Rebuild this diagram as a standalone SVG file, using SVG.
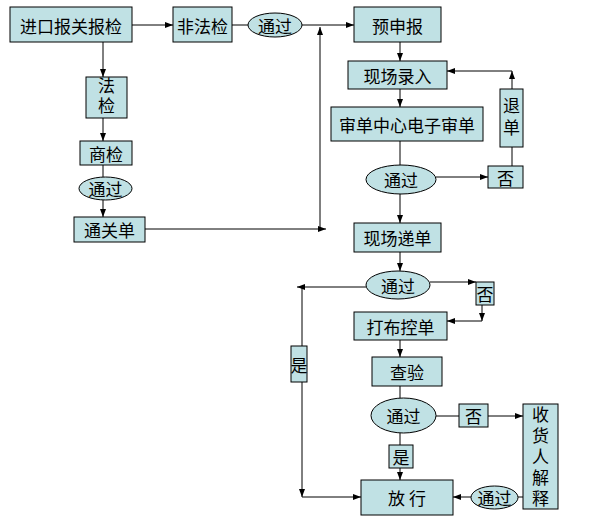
<svg xmlns="http://www.w3.org/2000/svg" width="593" height="518" viewBox="0 0 593 518">
<defs>
<marker id="ah" viewBox="0 0 8 6" refX="8" refY="3" markerWidth="8" markerHeight="6" markerUnits="userSpaceOnUse" orient="auto">
<path d="M0,0 L8,3 L0,6 z" fill="#000"/>
</marker>
<style>
.b{fill:#C0E1E4;stroke:#000;stroke-width:1}
.t{font-family:"Noto Sans CJK SC","Noto Sans",sans-serif;font-size:17px;fill:#000;text-anchor:middle;dominant-baseline:central}
.v{writing-mode:vertical-rl;text-orientation:upright}
.c{fill:none;stroke:#000;stroke-width:1}
.a{fill:none;stroke:#000;stroke-width:1;marker-end:url(#ah)}
</style>
</defs>
<rect width="593" height="518" fill="#fff"/>
<g id="connectors">
<line class="a" x1="132" y1="25" x2="173" y2="25"/>
<line class="c" x1="232" y1="25" x2="248" y2="25"/>
<line class="a" x1="302" y1="25" x2="354" y2="25"/>
<line class="a" x1="320" y1="229" x2="320" y2="27"/>
<line class="a" x1="145" y1="229" x2="326" y2="229"/>
<line class="a" x1="103" y1="42" x2="103" y2="77"/>
<line class="a" x1="103" y1="118" x2="103" y2="141"/>
<line class="c" x1="103" y1="165" x2="103" y2="177"/>
<line class="a" x1="103" y1="200" x2="103" y2="217"/>
<line class="a" x1="400" y1="42" x2="400" y2="61"/>
<line class="a" x1="400" y1="89" x2="400" y2="107"/>
<line class="a" x1="512" y1="89" x2="512" y2="71"/>
<line class="a" x1="512" y1="71" x2="447" y2="71"/>
<line class="c" x1="400" y1="141" x2="400" y2="165"/>
<line class="a" x1="436" y1="177" x2="488" y2="177"/>
<line class="c" x1="512" y1="166" x2="512" y2="147"/>
<line class="a" x1="400" y1="194" x2="400" y2="223"/>
<line class="a" x1="400" y1="252" x2="400" y2="271"/>
<line class="a" x1="430" y1="282" x2="476" y2="282"/>
<line class="a" x1="482" y1="305" x2="482" y2="321"/>
<line class="a" x1="482" y1="321" x2="447" y2="321"/>
<line class="a" x1="366" y1="287" x2="297" y2="287"/>
<line class="c" x1="302" y1="287" x2="302" y2="346"/>
<line class="a" x1="302" y1="382" x2="302" y2="497"/>
<line class="a" x1="302" y1="497" x2="361" y2="497"/>
<line class="a" x1="400" y1="340" x2="400" y2="357"/>
<line class="c" x1="400" y1="386" x2="400" y2="398"/>
<line class="c" x1="436" y1="416" x2="459" y2="416"/>
<line class="a" x1="488" y1="416" x2="523" y2="416"/>
<line class="c" x1="400" y1="433" x2="400" y2="445"/>
<line class="a" x1="400" y1="468" x2="400" y2="480"/>
<line class="c" x1="523" y1="497" x2="518" y2="497"/>
<line class="a" x1="471" y1="497" x2="453" y2="497"/>
</g>
<g id="n1"><rect class="b" x="10" y="7" width="122" height="35"/><text class="t" x="71" y="25">进口报关报检</text></g>
<g id="n2"><rect class="b" x="173" y="7" width="59" height="35"/><text class="t" x="202.5" y="25">非法检</text></g>
<g id="n3"><ellipse class="b" cx="275" cy="25" rx="27" ry="12"/><text class="t" x="275" y="25">通过</text></g>
<g id="n4"><rect class="b" x="354" y="7" width="87" height="35"/><text class="t" x="397.5" y="25">预申报</text></g>
<g id="n5"><rect class="b" x="86" y="77" width="41" height="41"/><text class="t v" x="106.5" y="97.5" style="letter-spacing:3px">法检</text></g>
<g id="n6"><rect class="b" x="80" y="141" width="52" height="24"/><text class="t" x="106" y="153">商检</text></g>
<g id="n7"><ellipse class="b" cx="105.5" cy="188.5" rx="26.5" ry="11.5"/><text class="t" x="105.5" y="188.5">通过</text></g>
<g id="n8"><rect class="b" x="74" y="217" width="71" height="25"/><text class="t" x="109.5" y="229.5">通关单</text></g>
<g id="n9"><rect class="b" x="348" y="61" width="99" height="28"/><text class="t" x="397.5" y="75">现场录入</text></g>
<g id="n10"><rect class="b" x="331" y="107" width="152" height="34"/><text class="t" x="407" y="124">审单中心电子审单</text></g>
<g id="n11"><rect class="b" x="500" y="89" width="23" height="58"/><text class="t v" x="511.5" y="119" style="letter-spacing:5px">退单</text></g>
<g id="n12"><ellipse class="b" cx="401" cy="179.5" rx="35" ry="14.5"/><text class="t" x="401" y="179.5">通过</text></g>
<g id="n13"><rect class="b" x="488" y="166" width="35" height="22"/><text class="t" x="505.5" y="177">否</text></g>
<g id="n14"><rect class="b" x="354" y="223" width="87" height="29"/><text class="t" x="397.5" y="237.5">现场递单</text></g>
<g id="n15"><ellipse class="b" cx="398" cy="285" rx="32" ry="14"/><text class="t" x="398" y="285">通过</text></g>
<g id="n16"><rect class="b" x="476" y="282" width="18" height="23"/><text class="t" x="485" y="293.5">否</text></g>
<g id="n17"><rect class="b" x="354" y="312" width="93" height="28"/><text class="t" x="400.5" y="326">打布控单</text></g>
<g id="n18"><rect class="b" x="372" y="357" width="70" height="29"/><text class="t" x="407" y="371.5">查验</text></g>
<g id="n19"><rect class="b" x="291" y="346" width="16" height="36"/><text class="t" x="299" y="364">是</text></g>
<g id="n20"><ellipse class="b" cx="403.5" cy="415.5" rx="32.5" ry="17.5"/><text class="t" x="403.5" y="415.5">通过</text></g>
<g id="n21"><rect class="b" x="459" y="404" width="29" height="23"/><text class="t" x="473.5" y="415.5">否</text></g>
<g id="n22"><rect class="b" x="523" y="404" width="35" height="105"/><text class="t v" x="540.5" y="459" style="letter-spacing:4px">收货人解释</text></g>
<g id="n23"><rect class="b" x="389" y="445" width="24" height="23"/><text class="t" x="401" y="456.5">是</text></g>
<g id="n24"><rect class="b" x="361" y="480" width="92" height="35"/><text class="t" x="407" y="497.5">放  行</text></g>
<g id="n25"><ellipse class="b" cx="494.5" cy="497.5" rx="23.5" ry="11.5"/><text class="t" x="494.5" y="497.5">通过</text></g>
</svg>
